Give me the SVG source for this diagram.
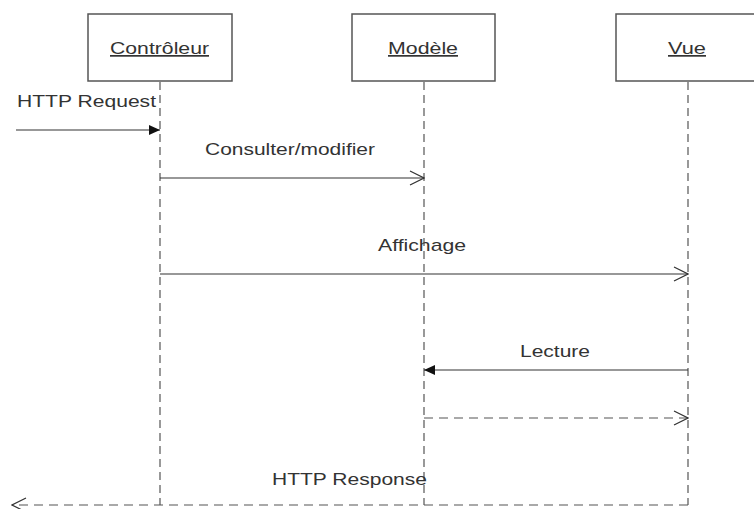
<svg xmlns="http://www.w3.org/2000/svg" width="754" height="509" viewBox="0 0 754 509">
  <style>
    .box { fill: #ffffff; stroke: #555555; stroke-width: 1.5; }
    .life { fill: none; stroke: #555555; stroke-width: 1.2; stroke-dasharray: 8 5; }
    .msg { fill: none; stroke: #333333; stroke-width: 1.2; }
    .ret { fill: none; stroke: #555555; stroke-width: 1.2; stroke-dasharray: 9 6; }
    text { font-family: "Liberation Sans", Arial, sans-serif; font-size: 17px; fill: #333333; }
    .name { text-decoration: underline; }
  </style>
  <defs>
    <marker id="filled" markerWidth="12" markerHeight="12" refX="11" refY="6" orient="auto" markerUnits="userSpaceOnUse">
      <path d="M0,1 L11,6 L0,11 Z" fill="#111111"/>
    </marker>
    <marker id="open" markerWidth="16" markerHeight="16" refX="15" refY="8" orient="auto" markerUnits="userSpaceOnUse">
      <path d="M1,1 L15,8 L1,15" fill="none" stroke="#333333" stroke-width="1.2"/>
    </marker>
  </defs>

  <g id="controleur">
    <rect class="box" x="88" y="14" width="144" height="67"/>
    <text class="name" x="110" y="54" textLength="99" lengthAdjust="spacingAndGlyphs">Contrôleur</text>
    <line class="life" x1="160" y1="82" x2="160" y2="505"/>
  </g>
  <g id="modele">
    <rect class="box" x="352" y="14" width="143" height="67"/>
    <text class="name" x="388" y="54" textLength="70" lengthAdjust="spacingAndGlyphs">Modèle</text>
    <line class="life" x1="424" y1="82" x2="424" y2="505"/>
  </g>
  <g id="vue">
    <rect class="box" x="616" y="14" width="143" height="67"/>
    <text class="name" x="668" y="54" textLength="38" lengthAdjust="spacingAndGlyphs">Vue</text>
    <line class="life" x1="688" y1="82" x2="688" y2="505"/>
  </g>

  <g id="connectors">
    <line class="msg" x1="16" y1="130" x2="160" y2="130" marker-end="url(#filled)"/>
    <text x="17" y="107" textLength="139" lengthAdjust="spacingAndGlyphs">HTTP Request</text>

    <line class="msg" x1="160" y1="178" x2="424" y2="178" marker-end="url(#open)"/>
    <text x="205" y="155" textLength="170" lengthAdjust="spacingAndGlyphs">Consulter/modifier</text>

    <line class="msg" x1="160" y1="274" x2="688" y2="274" marker-end="url(#open)"/>
    <text x="378" y="251" textLength="88" lengthAdjust="spacingAndGlyphs">Affichage</text>

    <line class="msg" x1="688" y1="370" x2="424" y2="370" marker-end="url(#filled)"/>
    <text x="520" y="357" textLength="70" lengthAdjust="spacingAndGlyphs">Lecture</text>

    <line class="ret" x1="424" y1="418" x2="688" y2="418" marker-end="url(#open)"/>

    <line class="ret" x1="688" y1="505" x2="12" y2="505" marker-end="url(#open)"/>
    <text x="272" y="485" textLength="155" lengthAdjust="spacingAndGlyphs">HTTP Response</text>
  </g>
</svg>
